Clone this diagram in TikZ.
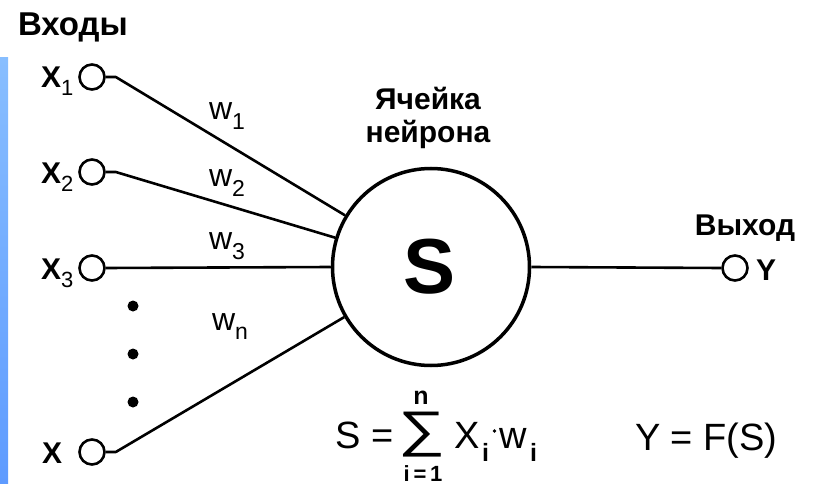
\documentclass[tikz,border=0pt]{standalone}
\usepackage{fontspec}
\setmainfont{Liberation Sans}
\newcommand\fsz[1]{\fontsize{#1}{#1}\selectfont}
\definecolor{barTop}{HTML}{88BEFF}
\definecolor{barBot}{HTML}{5E9BFF}
\begin{document}
\begin{tikzpicture}[x=1pt,y=-1pt,
  txt/.style={inner sep=0pt, outer sep=0pt},
  boldlab/.style={txt, font=\fsz{30}\bfseries},
  xlab/.style={txt, anchor=base west, font=\fsz{30}\bfseries},
  wlab/.style={txt, anchor=base west, font=\fsz{32}},
  form/.style={txt, anchor=base west, font=\fsz{38}},
  port/.style={circle, draw, line width=2.6pt, minimum size=25pt, inner sep=0pt},
  conn/.style={line width=2.6pt, line join=round},
  dotmark/.style={circle, fill, inner sep=0pt, minimum size=11pt},
]
\useasboundingbox (0,0) rectangle (817,484);
\shade[top color=barTop, bottom color=barBot] (0,58) rectangle (8,484);

% titles
\node[txt, anchor=base west, font=\fsz{33}\bfseries] (tin) at (18,36) {Входы};
\node[boldlab, anchor=base] (tc1) at (428,110) {Ячейка};
\node[boldlab, anchor=base] (tc2) at (428,143) {нейрона};
\node[boldlab, anchor=base] (tout) at (745,235) {Выход};

% neuron
\node[circle, draw, line width=3.5pt, minimum size=197pt, inner sep=0pt] (cell) at (431,267) {};
\node[txt, font=\fsz{78}\bfseries] (S) at (430,267) {S};

% inputs
\node[port] (x1) at (92,77) {};
\node[port] (x2) at (92,172) {};
\node[port] (x3) at (92,268) {};
\node[port] (xn) at (92,452) {};
\node[xlab] (lx1) at (41,88) {X\raisebox{-8pt}{\mdseries\fsz{22}1}};
\node[xlab] (lx2) at (41,183) {X\raisebox{-8pt}{\mdseries\fsz{22}2}};
\node[xlab] (lx3) at (41,279) {X\raisebox{-8pt}{\mdseries\fsz{22}3}};
\node[xlab] (lxn) at (42,463) {X};

\node[dotmark] (d1) at (133,306) {};
\node[dotmark] (d2) at (133,354) {};
\node[dotmark] (d3) at (133,402) {};

\draw[conn] (x1.east) -- ++(10,0) -- (cell.149);
\draw[conn] (x2.east) -- ++(10,0) -- (cell.163.5);
\draw[conn] (x3.east) -- (cell.west);
\draw[conn] (xn.east) -- ++(10,0) -- (cell.210);

% weights
\node[wlab] (w1) at (209,120) {w\raisebox{-10pt}{\fsz{23}1}};
\node[wlab] (w2) at (209,186) {w\raisebox{-10pt}{\fsz{23}2}};
\node[wlab] (w3) at (209,249) {w\raisebox{-10pt}{\fsz{23}3}};
\node[wlab] (wn) at (212,330) {w\raisebox{-9pt}{\fsz{23}n}};

% output
\node[port] (y) at (735,268) {};
\draw[conn] (cell.east) -- (y.west);
\node[txt, anchor=base west, font=\fsz{30}\bfseries] (ly) at (756,280) {Y};

% formulas
\node[form, anchor=base east] (fS) at (394,448) {S =};
\node[txt] (sig) at (421.5,435) {\resizebox*{47pt}{45pt}{∑}};
\node[txt, anchor=base, font=\fsz{25}\bfseries] (sn) at (421,404) {n};
\node[txt, anchor=base, font=\fsz{22}\bfseries] (si) at (423,481) {i\,=\,1};
\node[form] (fX) at (454,448) {X};
\node[txt, anchor=base west, font=\fsz{25}\bfseries] (fXi) at (482,461) {i};
\fill (494.5,431) circle (1.8);
\node[form] (fw) at (499,448) {w};
\node[txt, anchor=base west, font=\fsz{25}\bfseries] (fwi) at (530,461) {i};
\node[form] (fY) at (635,450) {Y = F(S)};
\end{tikzpicture}
\end{document}
